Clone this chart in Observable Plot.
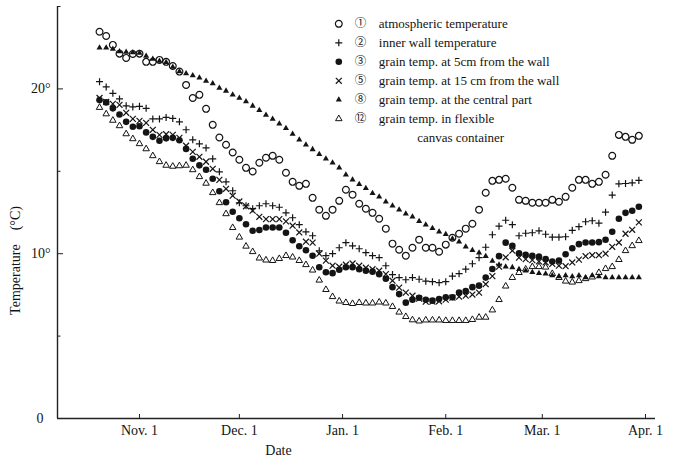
<!DOCTYPE html>
<html>
<head>
<meta charset="utf-8">
<script src="https://cdn.jsdelivr.net/npm/d3@7"></script>
<script src="https://cdn.jsdelivr.net/npm/@observablehq/plot@0.6"></script>
<style>
  html, body { margin: 0; padding: 0; background: #fff; }
  #chart { width: 673px; height: 458px; }
  g[aria-label="legend label"] text { letter-spacing: 1.5px; }
  g[aria-label="y title"] text { letter-spacing: 1px; }
  g[aria-label="x title"] text { letter-spacing: 1px; }
</style>
</head>
<body>
<div id="chart"></div>
<script>
// ---- sampling days (every second day, season 1979/80) ----
const sampleDays = [
  "10-20","10-22","10-24","10-26","10-28","10-30",
  "11-01","11-03","11-05","11-07","11-09","11-11","11-13","11-15","11-17","11-19","11-21","11-23","11-25","11-27","11-29",
  "12-01","12-03","12-05","12-07","12-09","12-11","12-13","12-15","12-17","12-19","12-21","12-23","12-25","12-27","12-29","12-31",
  "01-02","01-04","01-06","01-08","01-10","01-12","01-14","01-16","01-18","01-20","01-22","01-24","01-26","01-28","01-30",
  "02-01","02-03","02-05","02-07","02-09","02-11","02-13","02-15","02-17","02-19","02-21","02-23","02-25","02-27","02-29",
  "03-02","03-04","03-06","03-08","03-10","03-12","03-14","03-16","03-18","03-20","03-22","03-24","03-26","03-28","03-30"
];

// ---- series values (°C) ----
const atmospheric = [
  23.47,23.21,22.67,22.14,21.88,22.12,
  22.14,21.64,21.64,21.76,21.64,21.39,21.05,20.24,19.45,19.64,18.79,17.82,17.05,16.61,16.14,
  15.70,15.21,14.99,15.52,15.82,15.94,15.70,14.91,14.36,14.12,14.24,13.39,12.67,12.30,12.67,13.21,
  13.88,13.58,13.03,12.73,12.48,12.12,11.52,10.61,10.24,9.88,10.36,10.85,10.36,10.36,10.12,
  10.55,10.97,11.21,11.52,11.82,12.67,13.70,14.42,14.48,14.55,14.00,13.27,13.21,13.09,13.09,
  13.09,13.27,13.15,13.45,14.00,14.48,14.48,14.24,14.36,14.79,15.94,17.21,17.09,16.91,17.15
];
const innerWall = [
  20.44,20.12,19.73,19.39,18.97,18.91,
  18.94,18.82,18.18,18.18,18.27,18.21,18.00,17.52,16.91,16.67,16.42,15.76,14.97,14.36,13.82,
  13.09,12.91,12.73,12.91,13.03,12.91,12.82,12.48,12.18,11.76,11.33,11.09,10.18,9.88,10.00,10.36,
  10.67,10.48,10.30,10.06,9.88,9.76,9.27,8.73,8.55,8.42,8.55,8.45,8.33,8.30,8.24,
  8.30,8.64,8.79,9.06,9.39,9.76,10.39,11.15,11.67,12.03,11.76,11.09,11.24,11.27,11.39,
  11.18,11.00,11.00,11.03,11.42,11.64,11.94,12.00,11.85,12.52,13.56,14.24,14.26,14.30,14.45
];
const grain5cm = [
  19.32,19.18,18.82,18.45,18.00,17.70,
  17.73,17.36,17.09,16.85,17.00,17.03,16.88,16.36,15.76,15.36,15.09,14.55,13.79,13.12,12.55,
  12.15,11.79,11.39,11.44,11.59,11.59,11.59,11.27,10.82,10.45,10.21,9.88,9.18,8.87,8.82,9.03,
  9.18,9.18,9.06,8.97,8.91,8.76,8.48,7.97,7.55,7.03,7.21,7.33,7.21,7.15,7.25,
  7.35,7.35,7.64,7.73,7.97,8.06,8.55,9.07,9.85,10.67,10.48,10.03,9.94,9.88,9.82,
  9.67,9.53,9.58,9.97,10.33,10.58,10.68,10.68,10.70,10.85,11.33,12.12,12.48,12.61,12.85
];
const grain15cm = [
  19.45,19.21,19.09,19.03,18.55,18.18,
  18.06,17.94,17.52,17.21,17.25,17.21,17.03,16.55,16.18,15.88,15.58,15.15,14.48,13.94,13.52,
  13.17,12.88,12.61,12.24,12.10,12.10,12.10,11.96,11.70,11.29,10.73,10.67,10.00,9.58,9.27,9.21,
  9.33,9.41,9.27,9.15,9.06,8.97,8.76,8.36,7.94,7.64,7.45,7.27,7.09,7.09,7.11,
  7.21,7.33,7.39,7.45,7.52,7.64,8.15,8.64,9.21,9.78,10.18,9.76,9.67,9.61,9.53,
  9.47,9.38,9.27,9.24,9.47,9.64,9.85,9.91,9.91,10.00,10.42,10.68,11.21,11.45,11.90
];
const grainCentral = [
  22.50,22.50,22.42,22.27,22.24,22.21,
  22.18,22.00,21.82,21.70,21.61,21.33,21.06,20.94,20.82,20.67,20.48,20.33,20.06,19.88,19.64,
  19.45,19.24,18.97,18.70,18.42,18.18,17.88,17.61,17.27,16.91,16.61,16.33,16.03,15.76,15.52,15.21,
  14.79,14.48,14.21,13.97,13.67,13.45,13.15,12.91,12.67,12.42,12.24,11.97,11.76,11.55,11.33,
  11.18,10.91,10.73,10.42,10.21,10.06,9.85,9.55,9.33,9.21,9.17,9.06,8.97,8.87,8.82,
  8.79,8.67,8.61,8.67,8.61,8.67,8.56,8.67,8.61,8.56,8.56,8.56,8.56,8.56,8.56
];
const grainCanvas = [
  18.87,18.48,18.09,17.76,17.27,16.97,
  16.67,16.36,15.94,15.58,15.36,15.30,15.33,15.36,15.09,14.67,14.27,13.70,13.09,12.42,11.58,
  11.00,10.45,10.12,9.73,9.61,9.58,9.70,9.88,9.79,9.58,9.33,9.00,8.39,7.82,7.39,7.12,
  7.03,6.97,7.03,7.00,7.00,7.06,7.00,6.79,6.45,6.18,5.98,5.91,5.97,5.97,5.97,
  5.94,5.94,5.94,5.94,6.00,6.14,6.14,6.58,7.21,8.03,8.55,8.85,9.06,9.21,9.21,
  9.18,8.79,8.55,8.33,8.27,8.36,8.48,8.58,8.85,9.09,9.21,9.64,10.18,10.48,10.79
];

// ---- axis ticks & labels ----
const monthTicks = ["1979-11-01","1979-12-01","1980-01-01","1980-02-01","1980-03-01","1980-04-01"];
const monthTickLabels = ["Nov. 1","Dec. 1","Jan. 1","Feb. 1","Mar. 1","Apr. 1"];
const yMajorTicks = [0, 10, 20];
const yMajorLabels = ["0\u2002", "10°", "20°"];
const yMinorTicks = [5, 15, 25];
const xDomain = ["1979-10-07T09:00Z", "1980-04-04T00:00Z"];

// ---- legend text ----
const legendNumbers = ["①","②","③","⑤","⑧","⑫"];
const legendLabels = [
  "atmospheric temperature",
  "inner wall temperature",
  "grain temp. at 5cm from the wall",
  "grain temp. at 15 cm from the wall",
  "grain temp. at the central part",
  "grain temp. in flexible"
];
const legendContinuation = "canvas container";

// ---- build ----
const parseDay = s => {
  const [m, d] = s.split("-").map(Number);
  return new Date(Date.UTC(m >= 10 ? 1979 : 1980, m - 1, d));
};
const dates = sampleDays.map(parseDay);
const rows = values => values.map((v, i) => ({date: dates[i], value: v})).filter(d => d.value != null);

const ink = "#141414";
const series = [
  {values: grainCentral, symbol: "triangle2", r: 2.9, fill: ink, stroke: "none", strokeWidth: 0},
  {values: grainCanvas, symbol: "triangle2", r: 3.1, fill: "none", stroke: ink, strokeWidth: 1},
  {values: grain15cm, symbol: "times", r: 2.8, fill: "none", stroke: ink, strokeWidth: 1.2},
  {values: grain5cm, symbol: "circle", r: 3.3, fill: ink, stroke: "none", strokeWidth: 0},
  {values: innerWall, symbol: "plus", r: 2.4, fill: "none", stroke: ink, strokeWidth: 1.2},
  {values: atmospheric, symbol: "circle", r: 3.4, fill: "none", stroke: ink, strokeWidth: 1.2}
];
// legend order matches legend text order
const legendStyles = [series[5], series[4], series[3], series[2], series[0], series[1]];

const marks = [
  Plot.ruleY([0], {stroke: "#222", strokeWidth: 1.4}),
  Plot.ruleX([new Date(xDomain[0])], {stroke: "#222", strokeWidth: 1.4}),
  Plot.axisY({ticks: yMajorTicks, tickSize: -6, tickPadding: 13, label: null,
    tickFormat: d => yMajorLabels[yMajorTicks.indexOf(d)], fontSize: 14, stroke: "#222"}),
  Plot.axisY({ticks: yMinorTicks, tickSize: -3.5, label: null, tickFormat: () => "", stroke: "#222"}),
  Plot.axisX({ticks: monthTicks.map(s => new Date(s)), tickSize: -4, tickPadding: 11, label: null,
    tickFormat: d => monthTickLabels[monthTicks.findIndex(s => +new Date(s) === +d)], fontSize: 14, stroke: "#222"})
];

for (const s of series) {
  marks.push(Plot.dot(rows(s.values), {
    x: "date", y: "value", symbol: () => s.symbol, r: s.r,
    fill: s.fill, stroke: s.stroke, strokeWidth: s.strokeWidth
  }));
}

// legend (inside the plot, top right)
legendLabels.forEach((label, i) => {
  const st = legendStyles[i];
  const dy = 17.3 + 19 * i;
  marks.push(Plot.dot([label], {x: null, y: null, frameAnchor: "top-left", dx: 281.3, dy,
    symbol: () => st.symbol, r: st.r, fill: st.fill, stroke: st.stroke, strokeWidth: st.strokeWidth}));
  marks.push(Plot.text([legendNumbers[i]], {frameAnchor: "top-left", dx: 303, dy, text: d => d,
    textAnchor: "middle", lineAnchor: "middle", fontFamily: "'Noto Sans CJK JP', 'DejaVu Sans', sans-serif",
    fontSize: 11.5, fill: ink}));
  marks.push(Plot.text([label], {frameAnchor: "top-left", dx: 321.3, dy, text: d => d,
    textAnchor: "start", lineAnchor: "middle", fontSize: 13, fill: ink, ariaLabel: "legend label"}));
});
marks.push(Plot.text([legendContinuation], {frameAnchor: "top-left", dx: 359.7, dy: 17.3 + 19 * 6, text: d => d,
  textAnchor: "start", lineAnchor: "middle", fontSize: 13, fill: ink, ariaLabel: "legend label"}));

// axis titles
marks.push(Plot.text(["Temperature\u3000(°C)"], {frameAnchor: "left", dx: -42, dy: 48, rotate: -90,
  text: d => d, textAnchor: "middle", lineAnchor: "middle", fontSize: 14, fill: ink, ariaLabel: "y title"}));
marks.push(Plot.text(["Date"], {frameAnchor: "bottom", dx: -78, dy: 32,
  text: d => d, textAnchor: "middle", lineAnchor: "middle", fontSize: 14, fill: ink, ariaLabel: "x title"}));

const chart = Plot.plot({
  width: 673,
  height: 458,
  marginLeft: 57,
  marginRight: 18,
  marginTop: 6,
  marginBottom: 40,
  x: {type: "utc", domain: xDomain.map(s => new Date(s)), label: null},
  y: {domain: [0, 25], label: null},
  style: {fontFamily: "'Liberation Serif', 'Times New Roman', serif", fontSize: "14px", color: ink, background: "#fff", overflow: "visible"},
  marks
});
document.getElementById("chart").appendChild(chart);
</script>
</body>
</html>
